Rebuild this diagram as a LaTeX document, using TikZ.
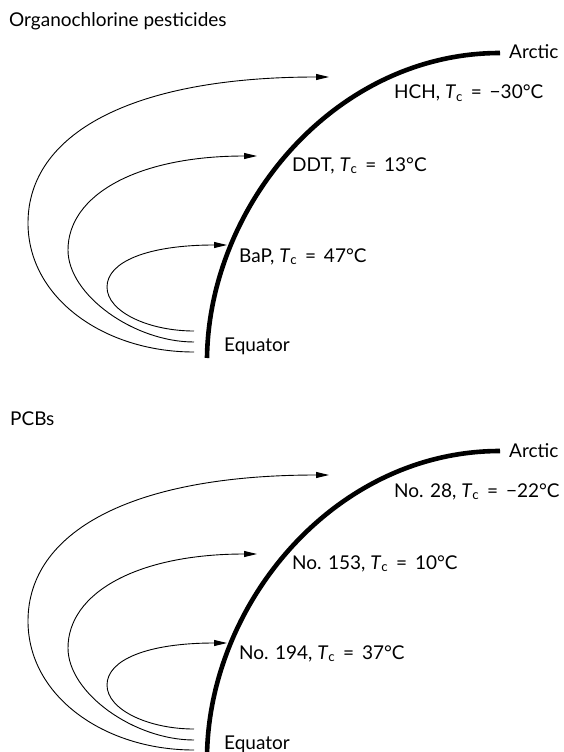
\documentclass[tikz,border=0pt]{standalone}
\usepackage{fontspec}
\setmainfont{Lato}
\usetikzlibrary{arrows.meta}
\newcommand{\myTc}{\textit{T}\textsubscript{c}}
\newcommand{\myEq}{\ \hspace{3pt}=\hspace{3pt}\ }
\begin{document}
\begin{tikzpicture}[x=1pt,y=-1pt,
  lbl/.style={anchor=base west, inner sep=0pt, font=\fontsize{19}{22}\selectfont},
  flow/.style={line width=0.9pt, -{Triangle[length=13pt,width=6pt]}},
  belt/.style={line width=4.6pt}]
\useasboundingbox (0,0) rectangle (564,752);
% ---------- panel 1 ----------
\node[lbl] (t1) at (9,27) {Organochlorine pesticides};
\coordinate (eqA) at (207,358);
\coordinate (arA) at (500,53);
\draw[belt] (eqA) .. controls (209,205) and (335,53) .. (arA);
\node[lbl] (arcA) at (509,59) {Arctic};
\node[lbl] (equA) at (224,351) {Equator};
\node[lbl] (hch) at (394,99) {HCH, \myTc\myEq−30°C};
\node[lbl] (ddt) at (292,171) {DDT, \myTc\myEq13°C};
\node[lbl] (bap) at (239,262) {BaP, \myTc\myEq47°C};
\coordinate (hS) at (194,352); \coordinate (hL) at (28,223); \coordinate (hE) at (329,77);
\coordinate (dS) at (194,342); \coordinate (dL) at (68,250); \coordinate (dE) at (257,156);
\coordinate (bS) at (194,331); \coordinate (bL) at (107,287); \coordinate (bE) at (227,245);
\draw[flow] (hS) .. controls +(-90,0) and +(0,75) .. (hL) .. controls +(0,-88) and +(-200,0) .. (hE);
\draw[flow] (dS) .. controls +(-60,0) and +(0,45) .. (dL) .. controls +(0,-55) and +(-120,0) .. (dE);
\draw[flow] (bS) .. controls +(-45,0) and +(0,25) .. (bL) .. controls +(0,-25) and +(-80,0) .. (bE);
% ---------- panel 2 ----------
\begin{scope}[shift={(0,398)}]
\node[lbl] (t2) at (10,27) {PCBs};
\coordinate (eqB) at (207,358);
\coordinate (arB) at (500,53);
\draw[belt] (eqB) .. controls (209,205) and (335,53) .. (arB);
\node[lbl] (arcB) at (509,59) {Arctic};
\node[lbl] (equB) at (224,351) {Equator};
\node[lbl] (p28) at (394,99) {No. 28, \myTc\myEq−22°C};
\node[lbl] (p153) at (292,171) {No. 153, \myTc\myEq10°C};
\node[lbl] (p194) at (239,261) {No. 194, \myTc\myEq37°C};
\coordinate (qS) at (194,352); \coordinate (qL) at (28,223); \coordinate (qE) at (329,77);
\coordinate (rS) at (194,342); \coordinate (rL) at (68,250); \coordinate (rE) at (257,156);
\coordinate (sS) at (194,331); \coordinate (sL) at (107,287); \coordinate (sE) at (227,245);
\draw[flow] (qS) .. controls +(-90,0) and +(0,75) .. (qL) .. controls +(0,-88) and +(-200,0) .. (qE);
\draw[flow] (rS) .. controls +(-60,0) and +(0,45) .. (rL) .. controls +(0,-55) and +(-120,0) .. (rE);
\draw[flow] (sS) .. controls +(-45,0) and +(0,25) .. (sL) .. controls +(0,-25) and +(-80,0) .. (sE);
\end{scope}
\end{tikzpicture}
\end{document}
